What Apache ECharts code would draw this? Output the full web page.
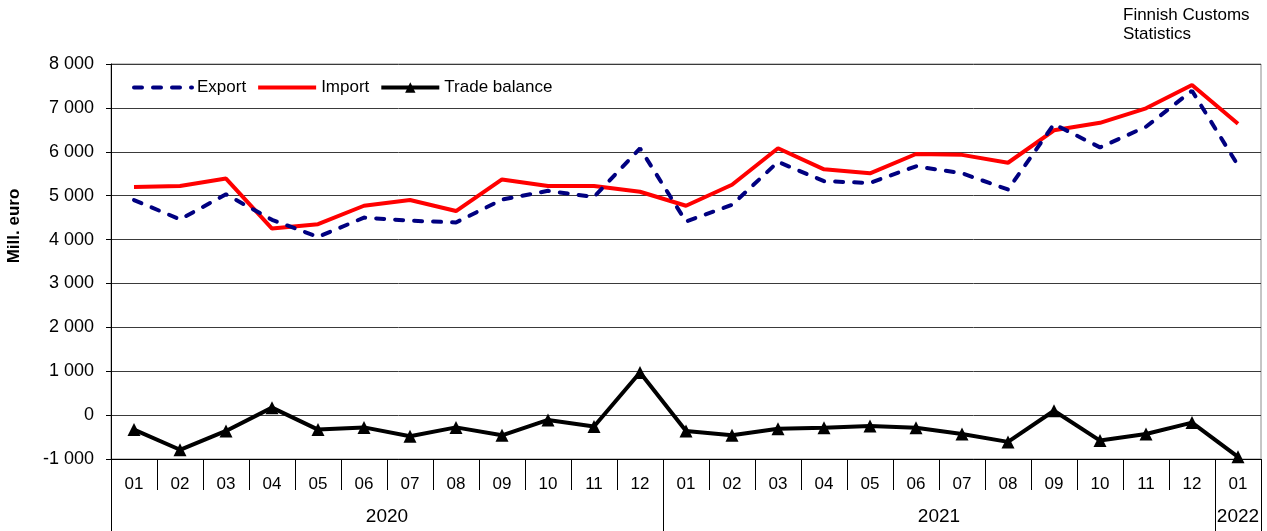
<!DOCTYPE html>
<html>
<head>
<meta charset="utf-8">
<script src="https://cdn.jsdelivr.net/npm/echarts@6/dist/echarts.min.js"></script>
<style>
  html, body { margin: 0; padding: 0; background: #fff; }
  #main { width: 1267px; height: 531px; }
</style>
</head>
<body>
<div id="main"></div>
<script>
// month labels, 2020-01 .. 2022-01
const months = ['01','02','03','04','05','06','07','08','09','10','11','12',
                '01','02','03','04','05','06','07','08','09','10','11','12','01'];
const years = ['2020', '2021', '2022'];
const yTicks = [-1000, 0, 1000, 2000, 3000, 4000, 5000, 6000, 7000, 8000];

// Mill. euro
const exportValues = [4900, 4460, 5030, 4450, 4060, 4500, 4430, 4390, 4910, 5110, 4970, 6080,
                      4410, 4790, 5770, 5330, 5290, 5670, 5510, 5140, 6630, 6100, 6570, 7390, 5690];
const importValues = [5200, 5220, 5390, 4250, 4350, 4770, 4900, 4650, 5370, 5220, 5220, 5090,
                      4770, 5250, 6080, 5600, 5510, 5950, 5930, 5750, 6490, 6660, 6990, 7520, 6640];
const balanceValues = [-330, -790, -360, 170, -330, -280, -480, -280, -460, -110, -260, 970,
                       -360, -460, -310, -290, -250, -290, -430, -610, 100, -580, -430, -170, -950];

// year axis: half-month slots so year labels can sit between months
const yearSlots = [];
for (let i = 0; i <= months.length * 2; i++) yearSlots.push('');
yearSlots[12] = years[0];
yearSlots[36] = years[1];
yearSlots[49] = years[2];
const yearBreaks = [0, 24, 48, 50];

const font = 'Liberation Sans, Arial, sans-serif';
const fmt = v => String(v).replace(/\B(?=(\d{3})+(?!\d))/g, ' ');

const chart = echarts.init(document.getElementById('main'));

chart.setOption({
  animation: false,
  textStyle: { fontFamily: font },
  title: {
    text: 'Finnish Customs\nStatistics',
    left: 1123,
    top: 6,
    padding: 0,
    textStyle: { fontFamily: font, fontSize: 17, fontWeight: 'normal', color: '#000', lineHeight: 19 }
  },
  legend: {
    data: [
      { name: 'Export', itemStyle: { opacity: 0 } },
      { name: 'Import', itemStyle: { opacity: 0 } },
      { name: 'Trade balance' }
    ],
    left: 132,
    top: 79,
    padding: 0,
    itemWidth: 58,
    itemHeight: 13,
    itemGap: 10,
    lineStyle: { width: 4 },
    textStyle: { fontFamily: font, fontSize: 17, color: '#000' }
  },
  grid: {
    left: 111, right: 6, top: 64, bottom: 72,
    outerBoundsMode: 'none',
    show: true, borderColor: '#8c8c8c', borderWidth: 1
  },
  xAxis: [
    {
      type: 'category',
      data: months,
      boundaryGap: true,
      axisLine: { onZero: false, lineStyle: { color: '#000', width: 1 } },
      axisTick: { show: true, interval: 0, length: 31, lineStyle: { color: '#000' } },
      axisLabel: { interval: 0, margin: 17, fontSize: 17, color: '#000', fontFamily: font }
    },
    {
      type: 'category',
      data: yearSlots,
      boundaryGap: false,
      position: 'bottom',
      axisLine: { show: false, onZero: false },
      axisTick: {
        show: true, length: 72,
        interval: i => yearBreaks.includes(i),
        lineStyle: { color: '#000' }
      },
      axisLabel: {
        interval: i => yearSlots[i] !== '',
        margin: 48, fontSize: 19, color: '#000', fontFamily: font
      }
    }
  ],
  yAxis: {
    type: 'value',
    min: yTicks[0],
    max: yTicks[yTicks.length - 1],
    interval: 1000,
    name: 'Mill. euro',
    nameLocation: 'middle',
    nameGap: 88,
    nameTextStyle: {
      fontFamily: font, fontSize: 17, fontWeight: 'bold', color: '#000',
      padding: [0, 0, 0, 71]
    },
    axisLine: { show: true, lineStyle: { color: '#000' } },
    axisTick: { show: true, length: 5, lineStyle: { color: '#000' } },
    axisLabel: { formatter: fmt, fontSize: 18, color: '#000', margin: 17, fontFamily: font },
    splitLine: { show: true, lineStyle: { color: '#3a3a3a', width: 1 } }
  },
  series: [
    {
      name: 'Import',
      type: 'line',
      data: importValues,
      symbol: 'none',
      lineStyle: { color: '#ff0000', width: 4 },
      itemStyle: { color: '#ff0000' }
    },
    {
      name: 'Export',
      type: 'line',
      data: exportValues,
      symbol: 'none',
      lineStyle: { color: '#000080', width: 4, type: [8, 11], cap: 'round' },
      itemStyle: { color: '#000080' }
    },
    {
      name: 'Trade balance',
      type: 'line',
      data: balanceValues,
      symbol: 'triangle',
      symbolSize: 13,
      lineStyle: { color: '#000', width: 4 },
      itemStyle: { color: '#000' }
    }
  ]
});
</script>
</body>
</html>
